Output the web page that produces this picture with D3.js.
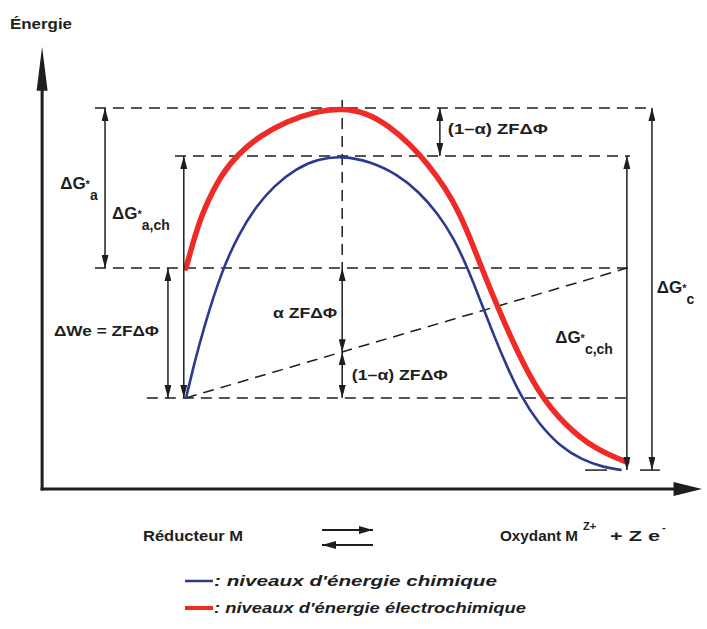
<!DOCTYPE html>
<html>
<head>
<meta charset="utf-8">
<script src="https://cdn.jsdelivr.net/npm/d3@7"></script>
<style>
  html, body { margin: 0; padding: 0; background: #fff; }
  svg { display: block; }
  text { font-family: "Liberation Sans Narrow", "Liberation Sans", Arial, sans-serif; font-weight: bold; fill: #1e1e1e; }
</style>
</head>
<body>
<svg id="chart" width="707" height="629"></svg>
<script>
// Reaction coordinate ξ (0 = réducteur M, 100 = oxydant M^Z+) and energy E (arbitrary units)

// chemical energy profile (blue)
const chemXi = [0, 2, 4, 8, 12, 16, 20, 25, 30, 35.5, 42, 48, 53, 57, 61, 64, 67, 70, 73, 76, 80, 85, 90, 95, 99];
const chemE  = [20.7, 29.0, 36.5, 49.3, 58.0, 64.3, 68.9, 72.8, 75.0, 75.7, 74.4, 71.5, 67.5, 62.9, 56.8, 50.2, 42.6, 34.8, 27.7, 21.3, 15.0, 9.7, 6.6, 4.9, 4.3];

// electrochemical energy profile (red)
const elecXi = [0, 2, 4, 8, 12, 17, 23, 29, 35.5, 41, 46, 51, 55, 59, 62, 65, 68, 71, 75, 80, 86, 93, 100.2];
const elecE  = [50.2, 57.5, 63.5, 71.5, 76.3, 80.4, 83.6, 85.7, 86.6, 85.5, 82.6, 78.3, 73.8, 68.3, 63.0, 56.0, 48.2, 41.0, 31.8, 22.0, 14.6, 9.0, 6.1];

// energy levels
const levelPeakElec = 86.6;   // sommet électrochimique
const levelPeakChem = 75.7;   // sommet chimique
const levelRedElec  = 50.2;   // réducteur, niveau électrochimique
const levelSplit    = 31.1;   // partage α / (1-α) au sommet
const levelRedChem  = 20.7;   // réducteur, niveau chimique
const levelOx       = 4.3;    // oxydant
const xiPeak = 35.5;

// horizontal guide lines: level, start ξ, end ξ
const guideE    = [levelPeakElec, levelPeakChem, levelRedElec, levelRedChem];
const guideFrom = [-20.7, -2.5, -20.7, -8.9];
const guideTo   = [105.5, 100.9, 100.9, 100.2];

// short base ticks at the oxydant level
const tickFrom = [90.7, 103.2];
const tickTo   = [95.7, 107.7];

// double-headed dimension arrows: ξ, from E, to E
const dimXi   = [-18.4, -4.1, -0.5, xiPeak, xiPeak, 57.7, 100.2, 105.9];
const dimTop  = [levelPeakElec, levelRedElec, levelPeakChem, levelRedElec, levelSplit, levelPeakElec, levelPeakChem, levelPeakElec];
const dimBot  = [levelRedElec, levelRedChem, levelRedChem, levelSplit, levelRedChem, levelPeakChem, levelOx, levelOx];

// plain annotation texts: text, ξ, E (baseline), width
const noteText  = ["ΔWe = ZFΔΦ", "α ZFΔΦ", "(1–α) ZFΔΦ", "(1–α) ZFΔΦ"];
const noteXi    = [-30.0, 19.8, 37.7, 59.5];
const noteE     = [34.8, 38.9, 24.8, 80.7];
const noteWidth = [105, 64, 96, 100];

// activation-energy labels ΔG*: subscript, ξ, E (baseline)
const dgSub = ["a", "a,ch", "c,ch", "c"];
const dgXi  = [-28.6, -16.8, 83.9, 107.0];
const dgE   = [68.2, 61.4, 33.2, 44.5];

// legend
const legendText   = [": niveaux d'énergie chimique", ": niveaux d'énergie électrochimique"];
const legendWidth  = [283, 312];
const legendColors = ["#2b3a8f", "#ee2b27"];

const ink = "#1e1e1e";
const svg = d3.select("#chart");
const x = d3.scaleLinear().domain([0, 100]).range([186, 626]);
const y = d3.scaleLinear().domain([0, 100]).range([489, 49]);

// arrowhead markers
const defs = svg.append("defs");
defs.append("marker")
  .attr("id", "head")
  .attr("viewBox", "0 -3.5 13 7")
  .attr("refX", 13).attr("refY", 0)
  .attr("markerWidth", 13).attr("markerHeight", 7)
  .attr("markerUnits", "userSpaceOnUse")
  .attr("orient", "auto-start-reverse")
  .append("path").attr("d", "M0,-3.5L13,0L0,3.5Z").attr("fill", ink);
defs.append("marker")
  .attr("id", "eq")
  .attr("viewBox", "0 -4 14 8")
  .attr("refX", 14).attr("refY", 0)
  .attr("markerWidth", 14).attr("markerHeight", 8)
  .attr("markerUnits", "userSpaceOnUse")
  .attr("orient", "auto")
  .append("path").attr("d", "M0,-4L14,0L0,4Z").attr("fill", ink);

// axes
const axisXi = -32.7;
svg.append("line")
  .attr("x1", x(axisXi)).attr("y1", y(0) + 1.5)
  .attr("x2", x(axisXi)).attr("y2", y(91))
  .attr("stroke", ink).attr("stroke-width", 3);
svg.append("path")
  .attr("d", `M${x(axisXi)},${y(100.5)}L${x(axisXi) + 5.5},${y(90.5)}L${x(axisXi) - 5.5},${y(90.5)}Z`)
  .attr("fill", ink);
svg.append("line")
  .attr("x1", x(axisXi) - 1.5).attr("y1", y(0))
  .attr("x2", x(111)).attr("y2", y(0))
  .attr("stroke", ink).attr("stroke-width", 3);
svg.append("path")
  .attr("d", `M${x(117.3)},${y(0)}L${x(110.8)},${y(0) - 7}L${x(110.8)},${y(0) + 7}Z`)
  .attr("fill", ink);

svg.append("text").attr("x", 10).attr("y", 29).attr("font-size", 15)
  .attr("textLength", 62).attr("lengthAdjust", "spacingAndGlyphs").text("Énergie");

// dashed guides
const guides = svg.append("g").attr("stroke", ink).attr("stroke-width", 1.5).attr("stroke-dasharray", "11,7");
guideE.forEach((e, i) => {
  guides.append("line")
    .attr("x1", x(guideFrom[i])).attr("y1", y(e))
    .attr("x2", x(guideTo[i])).attr("y2", y(e));
});
// vertical through the summit
guides.append("line")
  .attr("x1", x(xiPeak)).attr("y1", y(88.4))
  .attr("x2", x(xiPeak)).attr("y2", y(levelRedElec));
// electric work line from réducteur to oxydant
guides.append("line")
  .attr("x1", x(0)).attr("y1", y(levelRedChem))
  .attr("x2", x(100.2)).attr("y2", y(levelRedElec));

// base ticks
tickFrom.forEach((f, i) => {
  svg.append("line")
    .attr("x1", x(f)).attr("y1", y(levelOx))
    .attr("x2", x(tickTo[i])).attr("y2", y(levelOx))
    .attr("stroke", ink).attr("stroke-width", 1.5);
});

// energy profiles
const line = d3.line().x(d => x(d[0])).y(d => y(d[1])).curve(d3.curveBasis);
svg.append("path")
  .datum(chemXi.map((v, i) => [v, chemE[i]]))
  .attr("d", line).attr("fill", "none")
  .attr("stroke", legendColors[0]).attr("stroke-width", 2.6);
svg.append("path")
  .datum(elecXi.map((v, i) => [v, elecE[i]]))
  .attr("d", line).attr("fill", "none")
  .attr("stroke", legendColors[1]).attr("stroke-width", 5.5).attr("stroke-linecap", "round");

// dimension arrows
dimXi.forEach((xi, i) => {
  svg.append("line")
    .attr("x1", x(xi)).attr("y1", y(dimTop[i]))
    .attr("x2", x(xi)).attr("y2", y(dimBot[i]))
    .attr("stroke", ink).attr("stroke-width", 1.5)
    .attr("marker-start", "url(#head)").attr("marker-end", "url(#head)");
});

// annotation texts
noteText.forEach((t, i) => {
  svg.append("text")
    .attr("x", x(noteXi[i])).attr("y", y(noteE[i]))
    .attr("font-size", 15)
    .attr("textLength", noteWidth[i]).attr("lengthAdjust", "spacingAndGlyphs")
    .text(t);
});

// ΔG* labels
dgSub.forEach((s, i) => {
  const t = svg.append("text").attr("x", x(dgXi[i])).attr("y", y(dgE[i])).attr("font-size", 17);
  t.append("tspan").text("ΔG");
  t.append("tspan").attr("font-size", 11).attr("dy", -1).text("*");
  t.append("tspan").attr("font-size", 14).attr("dy", 12).text(s);
});

// reaction line
const rxY = 541;
svg.append("text").attr("x", 143).attr("y", rxY).attr("font-size", 14)
  .attr("textLength", 100).attr("lengthAdjust", "spacingAndGlyphs").text("Réducteur M");
svg.append("text").attr("x", 500).attr("y", rxY).attr("font-size", 14)
  .attr("textLength", 78).attr("lengthAdjust", "spacingAndGlyphs").text("Oxydant M");
svg.append("text").attr("x", 583).attr("y", rxY - 11).attr("font-size", 11).text("Z+");
svg.append("text").attr("x", 610).attr("y", rxY).attr("font-size", 14)
  .attr("textLength", 50).attr("lengthAdjust", "spacingAndGlyphs").text("+ Z e");
svg.append("text").attr("x", 662).attr("y", rxY - 10).attr("font-size", 11).text("-");

// equilibrium arrows
svg.append("line").attr("x1", 322).attr("y1", 530).attr("x2", 373).attr("y2", 530)
  .attr("stroke", ink).attr("stroke-width", 2).attr("marker-end", "url(#eq)");
svg.append("line").attr("x1", 373).attr("y1", 545).attr("x2", 322).attr("y2", 545)
  .attr("stroke", ink).attr("stroke-width", 2).attr("marker-end", "url(#eq)");

// legend
legendText.forEach((t, i) => {
  const ly = 581 + i * 27;
  svg.append("line").attr("x1", 185).attr("y1", ly).attr("x2", 213).attr("y2", ly)
    .attr("stroke", legendColors[i]).attr("stroke-width", i ? 4 : 2.5);
  svg.append("text").attr("x", 214).attr("y", ly + 5).attr("font-size", 15)
    .attr("font-style", "italic")
    .attr("textLength", legendWidth[i]).attr("lengthAdjust", "spacingAndGlyphs")
    .text(t);
});
</script>
</body>
</html>
